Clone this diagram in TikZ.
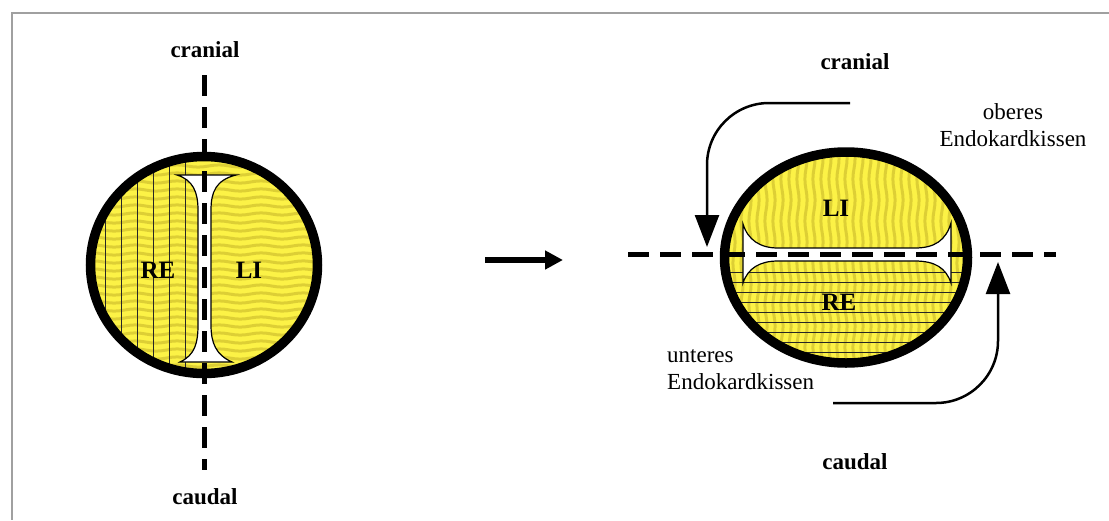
\documentclass[tikz,border=0pt]{standalone}
\usepackage{fontspec}
\setmainfont{Liberation Serif}
\usetikzlibrary{arrows.meta,decorations.pathmorphing}
\definecolor{padyellow}{RGB}{252,242,70}
\definecolor{padstripe}{RGB}{196,180,40}
\definecolor{framegray}{RGB}{160,160,160}
\tikzset{
  stripe/.style={padstripe,line width=3pt,opacity=0.55,decorate,decoration={snake,amplitude=1.1pt,segment length=42pt}},
  gridline/.style={black!85,line width=0.7pt},
  ring/.style={line width=9.5pt},
  septum/.style={fill=white,draw=black,line width=1.2pt},
  axis/.style={line width=5pt,dash pattern=on 21pt off 11pt},
  turn/.style={line width=2.5pt,rounded corners=62pt,-{Triangle[length=32pt,width=24pt]}},
  lab/.style={font=\fontsize{23}{27}\selectfont,inner sep=0pt},
  blab/.style={font=\fontsize{23}{27}\selectfont\bfseries,inner sep=0pt},
  region/.style={font=\fontsize{25}{30}\selectfont\bfseries,inner sep=0pt}
}

\begin{document}
\begin{tikzpicture}[x=1pt,y=-1pt]
\useasboundingbox (0,0) rectangle (1109,520);
\draw[framegray,line width=1.5pt] (1109,13) -- (12,13) -- (12,520);

% left: septum standing vertical
\begin{scope}
\clip (204,265) ellipse [x radius=114,y radius=109];
\fill[padyellow] (80,140) rectangle (330,390);
\foreach \y in {150,158,...,382} \draw[stripe] (80,\y) -- (330,\y);
\foreach \x in {105,121,...,185} \draw[gridline] (\x,140) -- (\x,390);
\end{scope}
\draw[septum] (177,175) -- (236,175) .. controls (216,180) and (211,192) .. (211,210)
  -- (211,325) .. controls (211,343) and (216,355) .. (232,362) -- (180,362)
  .. controls (195,355) and (198,343) .. (198,325) -- (198,210)
  .. controls (198,192) and (193,180) .. (177,175) -- cycle;
\draw[ring] (204,265) ellipse [x radius=113.5,y radius=108.5];
\coordinate (axLtop) at (204,75);
\coordinate (axLbot) at (204,470);
\draw[axis] (axLtop) -- (axLbot);
\node[region] (reL) at (158,270) {RE};
\node[region] (liL) at (249,270) {LI};
\node[blab] (cranL) at (205,50) {cranial};
\node[blab] (caudL) at (205,497) {caudal};

% turning arrow
\coordinate (mvA) at (485,260);
\coordinate (mvB) at (563,260);
\draw[line width=6pt,-{Triangle[length=18pt,width=18pt]}] (mvA) -- (mvB);

% right: septum lying horizontal
\begin{scope}
\clip (846,257.5) ellipse [x radius=122,y radius=106];
\fill[padyellow] (715,145) rectangle (980,372);
\foreach \x in {718,726,...,978} \draw[stripe] (\x,145) -- (\x,372);
\foreach \y in {272,282,...,352} \draw[gridline] (715,\y) -- (980,\y);
\end{scope}
\draw[septum] (743,224) .. controls (748,240) and (760,248) .. (778,248) -- (915,248)
  .. controls (935,248) and (946,240) .. (951,223) -- (951,283)
  .. controls (946,268) and (935,261) .. (915,261) -- (778,261)
  .. controls (760,261) and (748,268) .. (743,283) -- cycle;
\draw[ring] (846,257.5) ellipse [x radius=121.5,y radius=105.5];
\coordinate (axRl) at (628,254);
\coordinate (axRr) at (1056,254);
\draw[axis] (axRl) -- (axRr);
\node[region] (liR) at (836,208) {LI};
\node[region] (reR) at (839,302) {RE};
\node[blab] (cranR) at (855,62) {cranial};
\node[blab] (caudR) at (855,462) {caudal};

\node[lab,align=center] (oberes) at (1013,125) {oberes\\Endokardkissen};
\node[lab,align=left,anchor=west] (unteres) at (667,370) {unteres\\Endokardkissen};

\coordinate (obStart) at (850,103);
\coordinate (obTip) at (707,247);
\coordinate (unStart) at (833,403);
\coordinate (unTip) at (998,262);
\draw[turn] (obStart) -| (obTip);
\draw[turn] (unStart) -| (unTip);
\end{tikzpicture}
\end{document}
